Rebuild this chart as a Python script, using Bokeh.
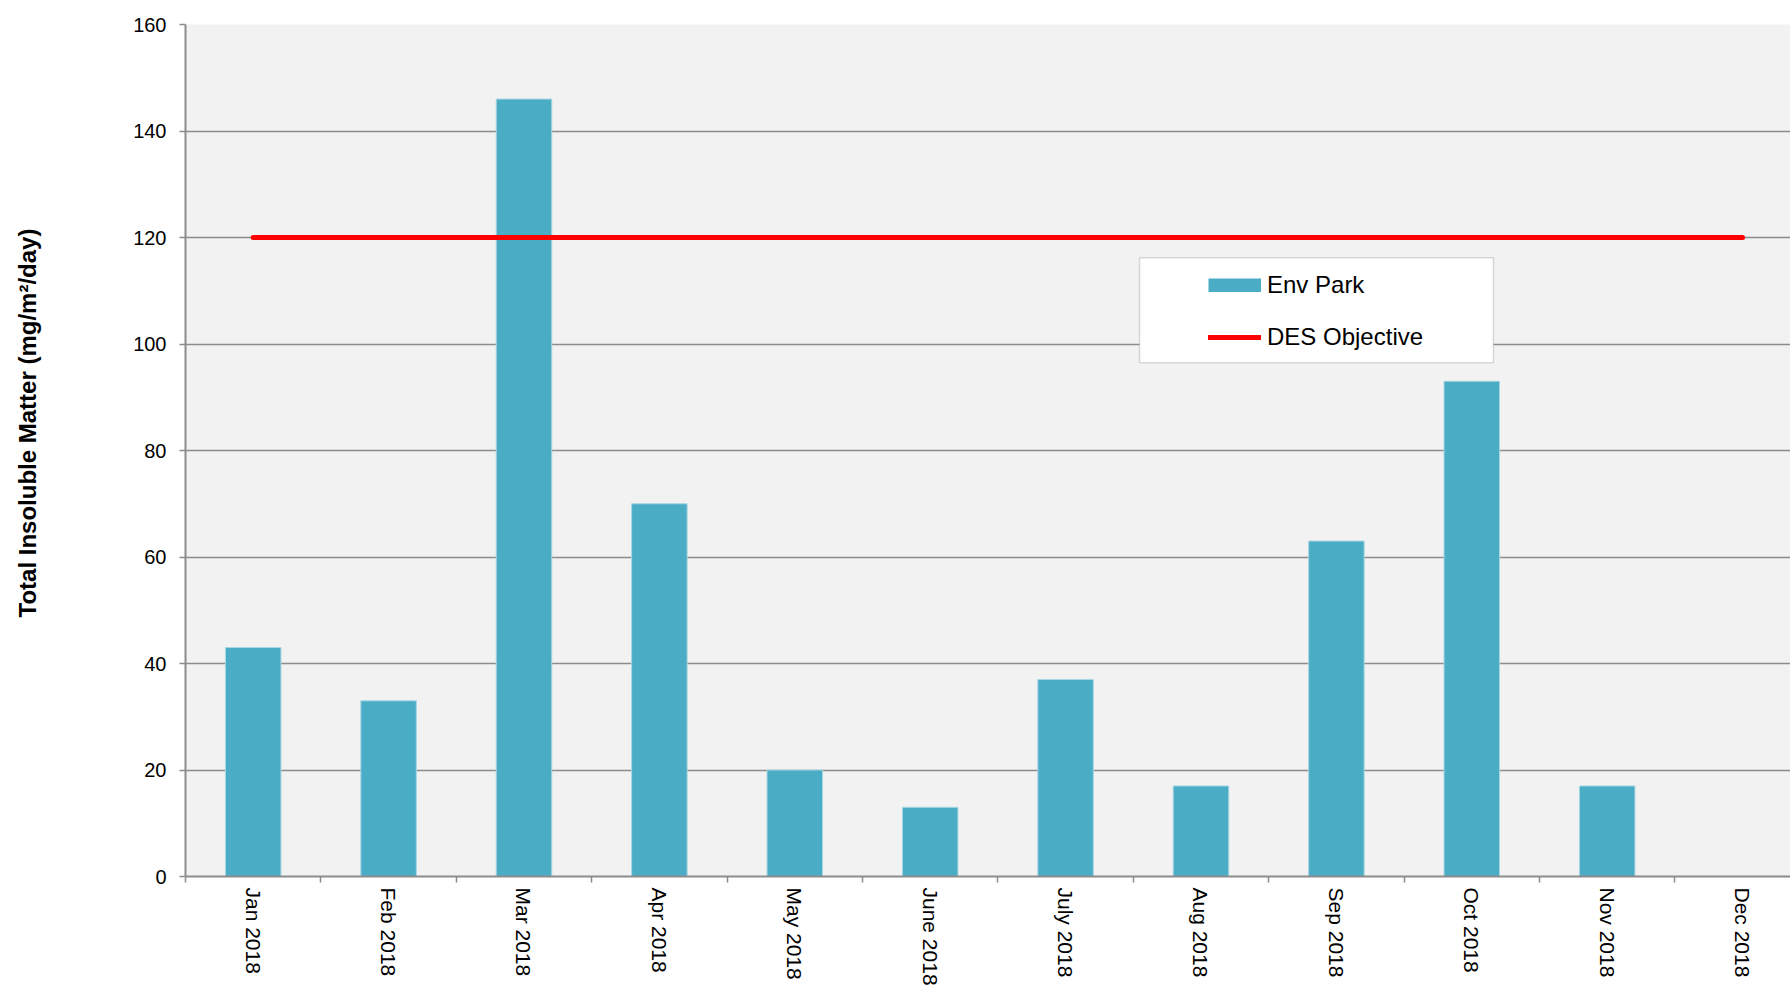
import math
import numpy as np
from bokeh.plotting import figure
from bokeh.models import (Range1d, FixedTicker, ColumnDataSource, Legend, LegendItem,
                          BoxAnnotation, Title, LinearAxis)
from bokeh.embed import file_html
from bokeh.resources import INLINE

# ---- data ----
months = ["Jan 2018", "Feb 2018", "Mar 2018", "Apr 2018", "May 2018", "June 2018",
          "July 2018", "Aug 2018", "Sep 2018", "Oct 2018", "Nov 2018", "Dec 2018"]
env_park = [43, 33, 146, 70, 20, 13, 37, 17, 63, 93, 17, None]
des_objective = [120, 120, 120, 120, 120, 120, 120, 120, 120, 120, 120, 120]
y_ticks = [0, 20, 40, 60, 80, 100, 120, 140, 160]
y_title = "Total Insoluble Matter (mg/m²/day)"
series_names = ["Env Park", "DES Objective"]

FONT = "Liberation Sans"
GRID = "#8C8C8C"
BAR = "#4BACC6"

idx = list(range(len(months)))
centers = [i + 0.5 for i in idx]
bar_vals = [np.nan if v is None else v for v in env_park]

src = ColumnDataSource(dict(x=centers, top=bar_vals, obj=des_objective,
                            base=[0] * len(months)))

p = figure(width=1790, height=988, output_backend="svg", toolbar_location=None,
           x_range=Range1d(0, 11.854), y_range=Range1d(0, 160),
           min_border_left=185, min_border_right=0, min_border_top=24, min_border_bottom=110)
p.background_fill_color = "#F2F2F2"
p.border_fill_color = "white"
p.outline_line_color = None

# grid
p.xgrid.visible = False
p.ygrid.ticker = FixedTicker(ticks=y_ticks)
p.ygrid.grid_line_color = GRID
p.ygrid.grid_line_width = 1.5

# y axis
p.yaxis.ticker = FixedTicker(ticks=y_ticks)
p.yaxis.axis_line_color = GRID
p.yaxis.axis_line_width = 2
p.yaxis.major_tick_line_color = GRID
p.yaxis.major_tick_line_width = 1.5
p.yaxis.major_tick_out = 6
p.yaxis.major_tick_in = 0
p.yaxis.minor_tick_line_color = None
p.yaxis.major_label_text_font = FONT
p.yaxis.major_label_text_font_size = "20px"
p.yaxis.major_label_text_color = "black"
p.yaxis.major_label_standoff = 13

# x axis: labels at month centres, ticks at month boundaries
p.xaxis.ticker = FixedTicker(ticks=centers, minor_ticks=list(range(len(months) + 1)))
p.xaxis.major_label_overrides = {c: m for c, m in zip(centers, months)}
p.xaxis.major_label_orientation = -math.pi / 2
p.xaxis.major_label_text_font = FONT
p.xaxis.major_label_text_font_size = "21px"
p.xaxis.major_label_text_color = "black"
p.xaxis.major_label_standoff = 5
p.xaxis.axis_line_color = GRID
p.xaxis.axis_line_width = 2
p.xaxis.major_tick_line_color = None
p.xaxis.major_tick_out = 0
p.xaxis.major_tick_in = 0
p.xaxis.minor_tick_line_color = GRID
p.xaxis.minor_tick_line_width = 1.5
p.xaxis.minor_tick_out = 6
p.xaxis.minor_tick_in = 0

# bars and objective line
r_bar = p.vbar(x="x", top="top", bottom="base", width=0.41, source=src,
               fill_color=BAR, line_color="#A8D6E3", line_width=1)
r_line = p.line(x="x", y="obj", source=src, line_color="#FF0000", line_width=5,
                line_cap="round")
# legend swatch for the bars (a flat 53x14 block like the reference)
r_bar_key = p.line(x=[np.nan], y=[np.nan], line_color=BAR, line_width=14, line_cap="butt")

# blank spacer between the tick labels and the y title (white tick on white border)
spacer = LinearAxis(ticker=FixedTicker(ticks=[80]), major_tick_out=89, major_tick_in=0,
                    major_label_standoff=0, major_label_overrides={80: ""},
                    axis_line_color=None, major_tick_line_color="white",
                    minor_tick_line_color=None)
p.add_layout(spacer, "left")

# y title
p.add_layout(Title(text=y_title, align="left", offset=259, vertical_align="middle",
                   text_font=FONT, text_font_size="24px", text_font_style="bold",
                   text_color="black", standoff=0), "left")

# legend box and legend
box = BoxAnnotation(left=7.046, right=9.66, bottom=96.5, top=116.2,
                    fill_color="white", fill_alpha=1.0, line_color=GRID, line_width=1.5)
p.add_layout(box)

legend = Legend(items=[LegendItem(label=series_names[0], renderers=[r_bar_key]),
                       LegendItem(label=series_names[1], renderers=[r_line])],
                location=(1023, 525), margin=0, padding=10, spacing=24,
                glyph_width=53, glyph_height=14, label_height=24, label_standoff=6,
                label_text_font=FONT, label_text_font_size="24px",
                label_text_color="black",
                border_line_color=None, background_fill_alpha=0)
p.add_layout(legend)

open("out.html", "w").write(file_html(p, INLINE))
